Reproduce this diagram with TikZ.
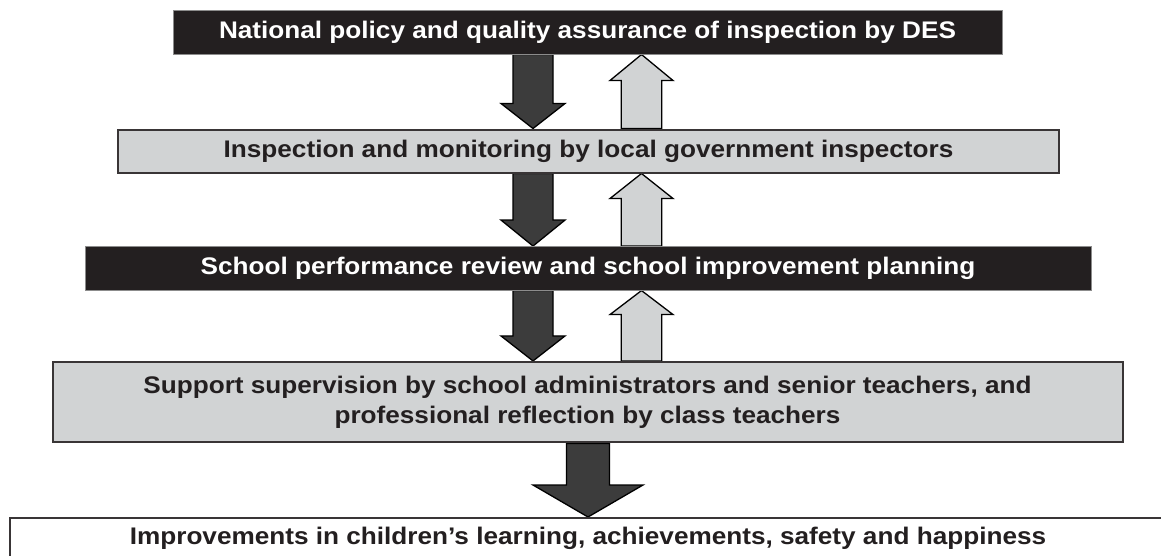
\documentclass[tikz,border=0pt]{standalone}
\usepackage{fontspec}
\setmainfont[FakeStretch=1.09]{Liberation Sans}
\usetikzlibrary{calc,backgrounds}
\definecolor{ink}{HTML}{231F20}
\definecolor{panel}{HTML}{D1D3D4}
\definecolor{arrowdark}{HTML}{3C3C3C}
\definecolor{arrowlight}{HTML}{D1D3D4}

% block arrow pointing down from the south side of #1 to the north side of #2
% #3 centre x, #4 half shaft width, #5 half head width, #6 head length, #7 fill
\newcommand\blockdown[7]{%
  \path let \p1=(#1.south), \p2=(#2.north) in
    [blockarrow, fill=#7]
    (#3pt-#4pt,\y1) -- (#3pt-#4pt,\y2+#6pt) -- (#3pt-#5pt,\y2+#6pt) -- (#3pt,\y2)
    -- (#3pt+#5pt,\y2+#6pt) -- (#3pt+#4pt,\y2+#6pt) -- (#3pt+#4pt,\y1) -- cycle;}
% block arrow pointing up from the north side of #1 to the south side of #2
\newcommand\blockup[7]{%
  \path let \p1=(#1.north), \p2=(#2.south) in
    [blockarrow, fill=#7]
    (#3pt-#4pt,\y1) -- (#3pt-#4pt,\y2-#6pt) -- (#3pt-#5pt,\y2-#6pt) -- (#3pt,\y2)
    -- (#3pt+#5pt,\y2-#6pt) -- (#3pt+#4pt,\y2-#6pt) -- (#3pt+#4pt,\y1) -- cycle;}

\begin{document}
\begin{tikzpicture}[x=1pt,y=-1pt,
  label font/.style={font=\bfseries\fontsize{24}{30}\selectfont},
  darkbox/.style={label font, fill=ink, draw=black!45, line width=1pt, text=white,
    inner sep=0pt, align=center},
  lightbox/.style={label font, fill=panel, draw=ink!90, line width=2pt, text=ink,
    inner sep=0pt, align=center},
  whitebox/.style={label font, fill=white, draw=ink!90, line width=2pt, text=ink,
    inner sep=0pt, align=center},
  blockarrow/.style={draw=black, line width=1.3pt, line join=miter}]
\useasboundingbox (0,0) rectangle (1161,555);

\node[darkbox, minimum width=829pt, minimum height=44pt] (policy) at (587.5,32)
  {National policy and quality assurance of inspection by DES};
\node[lightbox, minimum width=941pt, minimum height=43pt] (inspect) at (588.5,151)
  {Inspection and monitoring by local government inspectors};
\node[darkbox, minimum width=1006pt, minimum height=43.5pt] (review) at (588,268.3)
  {School performance review and school improvement planning};
\node[lightbox, minimum width=1070pt, minimum height=80.5pt] (support) at (587.5,402.2)
  {Support supervision by school administrators and senior teachers, and\\
   professional reflection by class teachers};
\node[whitebox, minimum width=1157pt, minimum height=41pt] (outcome) at (588,538.5)
  {Improvements in children’s learning, achievements, safety and happiness};

\begin{scope}[on background layer]
  \fill[white] (0,0) rectangle (1161,555);
  \blockdown{policy}{inspect}{533}{20}{32}{25}{arrowdark}
  \blockup{inspect}{policy}{641.5}{20.3}{31.5}{26}{arrowlight}
  \blockdown{inspect}{review}{533}{20}{32}{26}{arrowdark}
  \blockup{review}{inspect}{641.5}{20.3}{31.5}{25}{arrowlight}
  \blockdown{review}{support}{533}{20}{32}{25}{arrowdark}
  \blockup{support}{review}{641.5}{20.3}{31.5}{24}{arrowlight}
  \blockdown{support}{outcome}{588}{21.5}{55}{32}{arrowdark}
\end{scope}
\end{tikzpicture}
\end{document}
